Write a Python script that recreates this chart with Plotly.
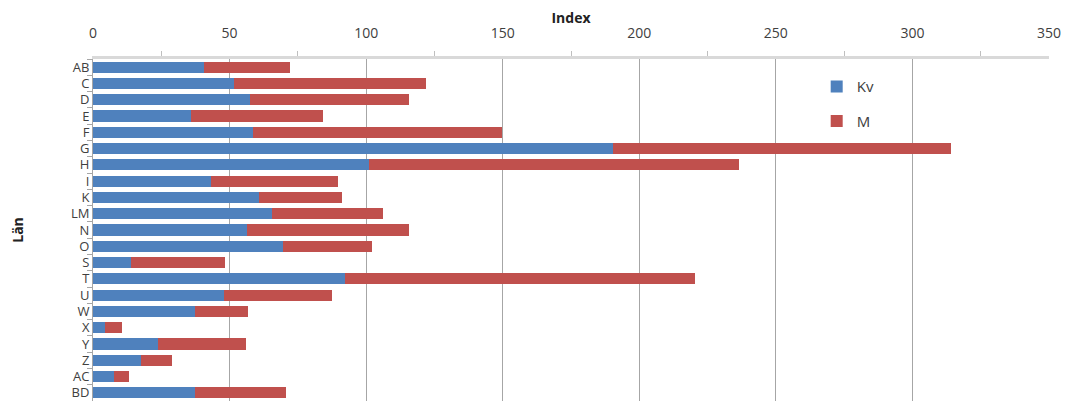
import plotly.graph_objects as go

lan = ["AB", "C", "D", "E", "F", "G", "H", "I", "K", "LM", "N", "O", "S", "T", "U", "W", "X", "Y", "Z", "AC", "BD"]
kv = [40.7, 51.5, 57.4, 36.0, 58.5, 190.4, 101.1, 43.2, 60.6, 65.4, 56.2, 69.4, 13.9, 92.2, 48.0, 37.4, 4.4, 23.7, 17.4, 7.8, 37.4]
m = [31.5, 70.3, 58.4, 48.1, 91.4, 123.7, 135.4, 46.4, 30.4, 40.7, 59.6, 32.9, 34.3, 128.3, 39.6, 19.2, 6.3, 32.2, 11.6, 5.2, 33.1]

BLUE = "#4F81BD"
RED = "#C0504D"
FONT = "Open Sans"

fig = go.Figure()
fig.add_trace(go.Bar(y=lan, x=kv, name="Kv", orientation="h", marker=dict(color=BLUE, line=dict(width=0)), legendgroup="kv"))
fig.add_trace(go.Bar(y=lan, x=m, name="M", orientation="h", marker=dict(color=RED, line=dict(width=0)), legendgroup="m"))

# the page body adds an 8px margin, so the figure is sized to fit the window
fig.update_layout(
    width=1062, height=402,
    barmode="stack", bargap=0.32,
    plot_bgcolor="white", paper_bgcolor="white",
    margin=dict(l=85, r=21, t=51, b=9, autoexpand=False),
    font=dict(family=FONT, size=13, color="#404040"),
    showlegend=True,
    legend=dict(x=0.757, y=0.967, xanchor="left", yanchor="top", bgcolor="rgba(0,0,0,0)",
                font=dict(size=15, color="#404040"), tracegroupgap=12, itemwidth=30),
    xaxis=dict(
        side="top", range=[0, 350], dtick=50, tick0=0, automargin=False,
        showgrid=True, gridcolor="#A6A6A6", gridwidth=1,
        showline=True, linecolor="#D9D9D9", linewidth=3,
        ticks="", tickfont=dict(size=14, color="#404040"), ticklabelstandoff=12,
        minor=dict(dtick=25, tick0=0, ticks="outside", ticklen=5, tickcolor="#BFBFBF", showgrid=False),
        zeroline=False,
        title=dict(text="<b>Index</b>", font=dict(size=14, color="#222222"), standoff=4),
    ),
    yaxis=dict(
        autorange="reversed", type="category", dtick=1, automargin=False,
        showline=True, linecolor="#A6A6A6", linewidth=1,
        ticks="outside", ticklen=5, tickcolor="#A6A6A6", tickson="boundaries",
        tickfont=dict(size=13, color="#404040"),
        showgrid=False, zeroline=False,
        title=dict(text="<b>Län</b>", font=dict(size=14, color="#222222"), standoff=56),
    ),
)

fig.write_html("out.html")
